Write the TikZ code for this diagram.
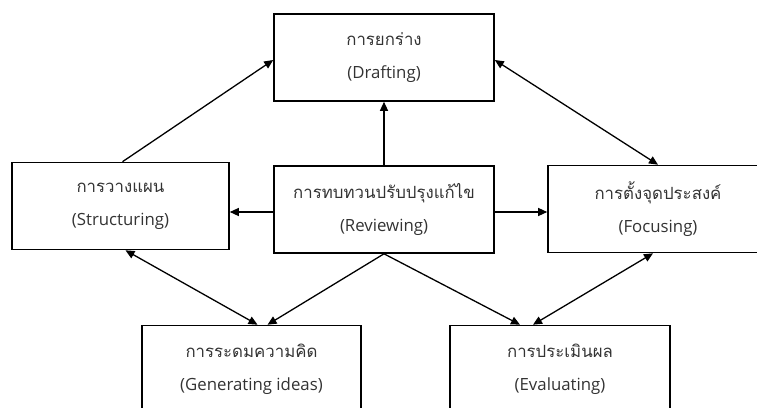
\documentclass[tikz,border=0pt]{standalone}
\usepackage{fontspec}
\setmainfont{Open Sans}
\newfontfamily\thai[Script=Thai]{Loma}
\usetikzlibrary{arrows.meta}
\definecolor{txt}{HTML}{333333}
\tikzset{
  box/.style={draw=black, line width=1.6pt, minimum width=#1, minimum height=87pt,
    inner sep=0pt, align=center, text=txt, font=\fontsize{16.8}{33}\selectfont},
  box/.default=220pt,
  conn/.style={line width=1.3pt, -{Triangle[length=9pt,width=8pt]}},
  bconn/.style={line width=1.3pt, {Triangle[length=9pt,width=8pt]}-{Triangle[length=9pt,width=8pt]}}
}
\begin{document}
\begin{tikzpicture}[x=1pt,y=-1pt]
\useasboundingbox (0,0) rectangle (757,407);
\clip (0,0) rectangle (757,407);
\node[box] (draft) at (384,57.5) {{\thai การยกร่าง}\\(Drafting)};
\node[box=217pt] (strc) at (120.5,206) {{\thai การวางแผน}\\(Structuring)};
\node[box] (rev) at (384,209.5) {{\thai การทบทวนปรับปรุงแก้ไข}\\(Reviewing)};
\node[box] (foc) at (658,209) {{\thai การตั้งจุดประสงค์}\\(Focusing)};
\node[box=219pt] (gen) at (251.5,369) {{\thai การระดมความคิด}\\(Generating ideas)};
\node[box] (eval) at (560,369) {{\thai การประเมินผล}\\(Evaluating)};
\coordinate (rw) at ([yshift=-2.5pt]rev.west);
\coordinate (re) at ([yshift=-2.5pt]rev.east);
\draw[conn] ([xshift=2pt]strc.north) -- ([yshift=-2.5pt]draft.west);
\draw[conn] (rev.north) -- (draft.south);
\draw[conn] (rw) -- (strc.east |- rw);
\draw[conn] (re) -- (foc.west |- re);
\draw[bconn] ([yshift=-2.5pt]draft.east) -- (foc.north);
\draw[bconn] ([xshift=5pt]strc.south) -- ([xshift=6pt]gen.north);
\draw[conn] (rev.south) -- ([xshift=16pt]gen.north);
\draw[conn] (rev.south) -- ([xshift=-40pt]eval.north);
\draw[bconn] ([xshift=-5pt]foc.south) -- ([xshift=-27pt]eval.north);
\end{tikzpicture}
\end{document}
